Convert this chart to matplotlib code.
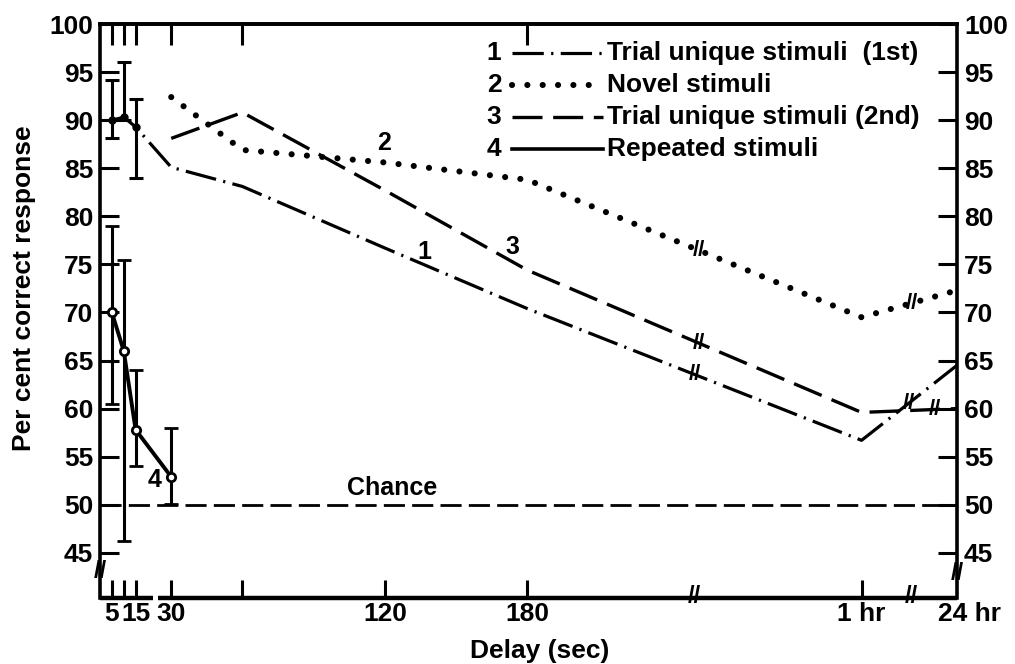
import numpy as np
import matplotlib
matplotlib.use("Agg")
import matplotlib.pyplot as plt
from matplotlib.lines import Line2D

plt.rcParams['font.family'] = ['Liberation Sans', 'DejaVu Sans']
plt.rcParams['font.weight'] = 'bold'

# ---------------------------------------------------------------- data
# delays are in seconds, then two points after axis breaks
delays1 = [5, 10, 15, 30, 60, 120, 180, '1 hr', '24 hr']
trial1st = [90, 90.3, 89.3, 85.1, 83.1, 76.7, 70.4, 56.7, 64.5]
err1_delays = [5, 10, 15]
err1_mean = [90, 90.3, 89.3]
err1_lo = [88.1, 90.0, 84.0]
err1_hi = [94.2, 96.0, 92.2]

delays23 = [30, 60, 120, 180, '1 hr', '24 hr']
novel = [92.4, 86.9, 85.6, 83.8, 69.5, 72.3]
trial2nd = [88.1, 90.8, 82.7, 74.4, 59.6, 60.0]

delays4 = [5, 10, 15, 30]
repeated = [70.0, 66.0, 57.8, 52.9]
repeated_lo = [60.5, 46.2, 54.0, 50.1]
repeated_hi = [79.0, 75.5, 64.0, 58.0]

chance = 50

legend_labels = ['Trial unique stimuli  (1st)', 'Novel stimuli',
                 'Trial unique stimuli (2nd)', 'Repeated stimuli']
curve_numbers = ['1', '2', '3', '4']

xtick_delays = [5, 10, 15, 30, 60, 120, 180, '1 hr']
xtick_labels = ['5', '', '15', '30', '', '120', '180', '1 hr']
top_tick_delays = [5, 10, 15, 30, 60, 180]
yticks = list(range(45, 101, 5))

# ---------------------------------------------------------------- axis layout
# linear in seconds up to the first break, then 1 hr and 24 hr
BREAK1, HOUR, BREAK2, DAY = 250.4, 320.8, 341.8, 361.0
YMIN = 40.3


def xp(d):
    if d == '1 hr':
        return HOUR
    if d == '24 hr':
        return DAY
    return float(d)


def xs(lst):
    return [xp(d) for d in lst]


W, H = 1015, 664
fig = plt.figure(figsize=(W / 100, H / 100), dpi=100)
ax = fig.add_axes([100 / W, 1 - 598 / H, 857 / W, 574 / H])
ax.set_xlim(0, DAY)
ax.set_ylim(YMIN, 100)

K = 'black'
DASHDOT = (0, (9.8, 2.3, 0.7, 2.3))
DASHED = (0, (9.0, 3.2))
DOTTED = (0, (0.01, 2.5))
CHANCE = (0, (7.6, 2.6))

# 1: trial unique (1st)
ax.plot(xs(delays1), trial1st, color=K, lw=2.3, ls=DASHDOT)
m = np.array(err1_mean)
ax.errorbar(xs(err1_delays), m, yerr=[m - np.array(err1_lo), np.array(err1_hi) - m],
            fmt='o', color=K, ms=5, elinewidth=2.2, capsize=5, capthick=2.2)

# 2: novel (dotted)
ax.plot(xs(delays23), novel, color=K, lw=4.4, ls=DOTTED, dash_capstyle='round')

# 3: trial unique (2nd)
ax.plot(xs(delays23), trial2nd, color=K, lw=2.4, ls=DASHED)

# 4: repeated
r = np.array(repeated)
ax.errorbar(xs(delays4), r, yerr=[r - np.array(repeated_lo), np.array(repeated_hi) - r],
            fmt='-o', color=K, lw=2.8, mfc='white', mec=K, mew=2, ms=6,
            elinewidth=2.2, capsize=5, capthick=2.2)

# chance
ax.plot([0, DAY], [chance, chance], color=K, lw=2.0, ls=CHANCE)
ax.text(123, chance + 1.7, 'Chance', fontsize=18, ha='center', va='center')

# curve numbers
ax.text(136.6, 76.3, curve_numbers[0], fontsize=18, ha='center', va='center')
ax.text(119.8, 87.6, curve_numbers[1], fontsize=18, ha='center', va='center')
ax.text(173.7, 76.8, curve_numbers[2], fontsize=18, ha='center', va='center')
ax.text(22.9, 52.6, curve_numbers[3], fontsize=18, ha='center', va='center')

# break marks on the curves
xx1, xx23 = xs(delays1), xs(delays23)
for bx, xv, yv in [(BREAK1, xx1, trial1st), (BREAK1 + 2, xx23, novel),
                   (BREAK1 + 2, xx23, trial2nd), (BREAK2 - 1, xx1, trial1st),
                   (BREAK2, xx23, novel), (BREAK2 + 10, xx23, trial2nd)]:
    ax.text(bx, np.interp(bx, xv, yv), '//', fontsize=16, ha='center',
            va='center', color=K)

# ---------------------------------------------------------------- spines and ticks
for s in ['left', 'right', 'top']:
    ax.spines[s].set_linewidth(2.6)
ax.spines['bottom'].set_visible(False)
gap0, gap1 = 53 / 857, 58 / 857
ax.plot([0, gap0], [0, 0], transform=ax.transAxes, color=K, lw=3.2,
        clip_on=False, solid_capstyle='butt')
ax.plot([gap1, 1], [0, 0], transform=ax.transAxes, color=K, lw=3.2,
        clip_on=False, solid_capstyle='butt')
for bx in [BREAK1, BREAK2]:
    ax.text(bx, YMIN + 0.2, '//', fontsize=17, ha='center', va='center', clip_on=False)
ax.text(0, 43.1, '//', fontsize=17, ha='center', va='center', clip_on=False)
ax.text(DAY, 42.9, '//', fontsize=17, ha='center', va='center', clip_on=False)

ax.set_yticks(yticks)
ax.set_yticklabels([str(v) for v in yticks])
ax.tick_params(axis='y', direction='in', length=14, width=2.2, labelsize=19,
               left=True, right=True, labelleft=True, labelright=True, pad=5)

ax.set_xticks(xs(xtick_delays))
ax.set_xticklabels(xtick_labels)
ax.tick_params(axis='x', direction='in', length=13, width=2.2, labelsize=19, pad=3)
ax.annotate('24 hr', xy=(1, 0), xycoords='axes fraction', xytext=(9, -3),
            textcoords='offset points', ha='center', va='top', fontsize=19)

top = ax.secondary_xaxis('top')
top.set_xticks(xs(top_tick_delays))
top.tick_params(axis='x', direction='in', length=15, width=2.2, labeltop=False)
top.spines['top'].set_linewidth(2.6)

fig.text(24 / W, 1 - 288 / H, 'Per cent correct response', rotation=90,
         fontsize=19, ha='center', va='center')
fig.text(540 / W, 1 - 651 / H, 'Delay (sec)', fontsize=19, ha='center', va='center')

# ---------------------------------------------------------------- legend (hand drawn)
styles = [dict(lw=2.3, ls=DASHDOT), dict(lw=4.4, ls=DOTTED, dash_capstyle='round'),
          dict(lw=2.4, ls=DASHED), dict(lw=2.6, ls='-')]
for i, (num, lab, st) in enumerate(zip(curve_numbers, legend_labels, styles)):
    py = 53 + 32 * i
    fy = 1 - py / H
    fig.text(494 / W, fy, num, fontsize=19, ha='center', va='center')
    fig.add_artist(Line2D([512 / W, 603 / W], [fy, fy], color=K,
                          transform=fig.transFigure, **st))
    fig.text(607 / W, fy, lab, fontsize=19, ha='left', va='center')

fig.savefig('out.png', dpi=100)
